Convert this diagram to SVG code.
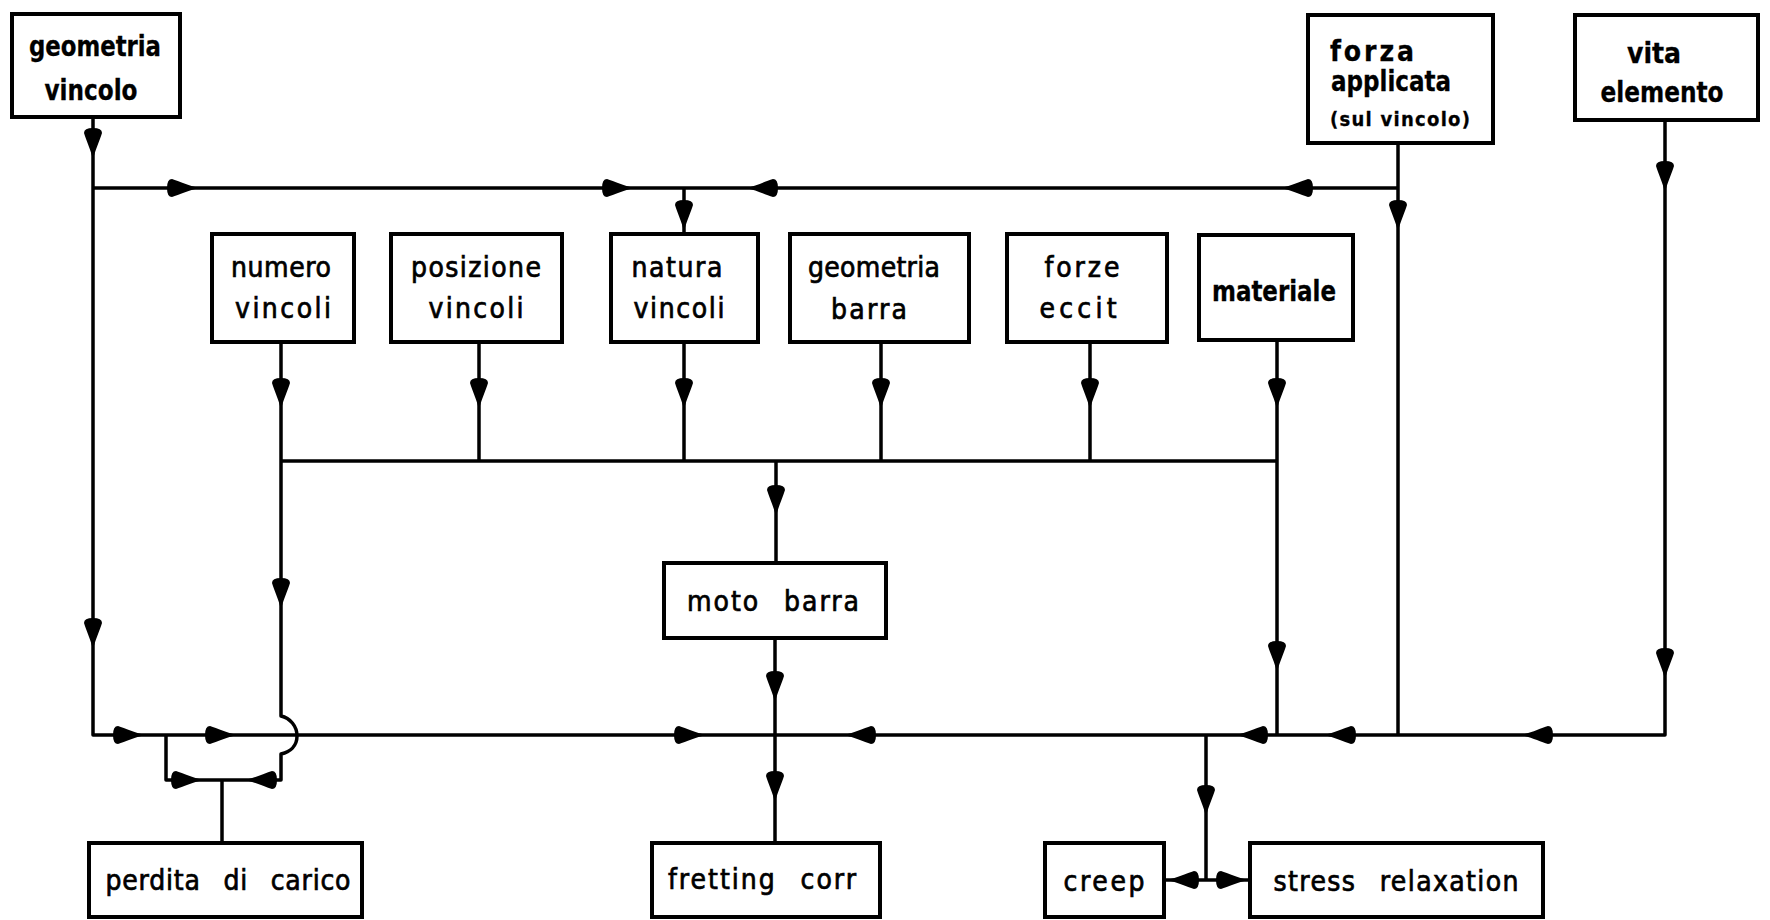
<svg xmlns="http://www.w3.org/2000/svg" width="1770" height="920" viewBox="0 0 1770 920">
<defs>
<style>
.box{fill:#fff;stroke:#000;stroke-width:4}
.ln{fill:none;stroke:#000;stroke-width:3.5;stroke-linejoin:round}
.t{font-family:"DejaVu Sans Condensed","DejaVu Sans",sans-serif;font-stretch:condensed;font-size:28px;fill:#000;stroke:#000;stroke-width:0.7;text-anchor:middle}
.b{font-weight:bold;stroke-width:0.3}
.s{font-size:20px}
.w{word-spacing:14px}
</style>
<path id="ah" d="M0,0 C-10,-2 -20,-7 -27,-9 Q-32,-9 -32,0 Q-32,9 -27,9 C-20,7 -10,2 0,0 Z" fill="#000"/>
</defs>
<rect width="1770" height="920" fill="#fff"/>
<g id="connectors">
<path class="ln" d="M93,117 V735 H1665 V120"/>
<path class="ln" d="M93,188 H1398"/>
<path class="ln" d="M1398,143 V735"/>
<path class="ln" d="M684,188 V234"/>
<path class="ln" d="M281,342 V461 M479,342 V461 M684,342 V461 M881,342 V461 M1090,342 V461 M1277,340 V735"/>
<path class="ln" d="M281,461 H1277"/>
<path class="ln" d="M281,461 V716 C290,718 297,726 297,736 C297,746 290,752 281,754 V780 H166 V735"/>
<path class="ln" d="M222,780 V843"/>
<path class="ln" d="M776,461 V563"/>
<path class="ln" d="M775,638 V843"/>
<path class="ln" d="M1206,735 V880 M1164,880 H1250"/>
<g>
<use href="#ah" transform="translate(93,160) rotate(90)"/>
<use href="#ah" transform="translate(93,650) rotate(90)"/>
<use href="#ah" transform="translate(684,232) rotate(90)"/>
<use href="#ah" transform="translate(1398,232) rotate(90)"/>
<use href="#ah" transform="translate(1665,193) rotate(90)"/>
<use href="#ah" transform="translate(1665,680) rotate(90)"/>
<use href="#ah" transform="translate(281,410) rotate(90)"/>
<use href="#ah" transform="translate(479,410) rotate(90)"/>
<use href="#ah" transform="translate(684,410) rotate(90)"/>
<use href="#ah" transform="translate(881,410) rotate(90)"/>
<use href="#ah" transform="translate(1090,410) rotate(90)"/>
<use href="#ah" transform="translate(1277,410) rotate(90)"/>
<use href="#ah" transform="translate(281,610) rotate(90)"/>
<use href="#ah" transform="translate(1277,673) rotate(90)"/>
<use href="#ah" transform="translate(776,517) rotate(90)"/>
<use href="#ah" transform="translate(775,703) rotate(90)"/>
<use href="#ah" transform="translate(775,803) rotate(90)"/>
<use href="#ah" transform="translate(1206,817) rotate(90)"/>
<use href="#ah" transform="translate(199,188)"/>
<use href="#ah" transform="translate(634,188)"/>
<use href="#ah" transform="translate(145,735)"/>
<use href="#ah" transform="translate(237,735)"/>
<use href="#ah" transform="translate(706,735)"/>
<use href="#ah" transform="translate(203,780)"/>
<use href="#ah" transform="translate(1248,880)"/>
<use href="#ah" transform="translate(746,188) rotate(180)"/>
<use href="#ah" transform="translate(1281,188) rotate(180)"/>
<use href="#ah" transform="translate(844,735) rotate(180)"/>
<use href="#ah" transform="translate(1236,735) rotate(180)"/>
<use href="#ah" transform="translate(1324,735) rotate(180)"/>
<use href="#ah" transform="translate(1521,735) rotate(180)"/>
<use href="#ah" transform="translate(245,780) rotate(180)"/>
<use href="#ah" transform="translate(1167,880) rotate(180)"/>
</g>
</g>
<g id="geometria-vincolo">
<rect class="box" x="12" y="14" width="168" height="103"/>
<text class="t b" x="95" y="56" textLength="132" lengthAdjust="spacingAndGlyphs">geometria</text>
<text class="t b" x="91" y="100" textLength="93" lengthAdjust="spacingAndGlyphs">vincolo</text>
</g>
<g id="forza-applicata">
<rect class="box" x="1308" y="15" width="185" height="128"/>
<text class="t b" x="1372" y="61" textLength="84">forza</text>
<text class="t b" x="1391" y="91" textLength="120" lengthAdjust="spacingAndGlyphs">applicata</text>
<text class="t b s" x="1400" y="126" textLength="140">(sul vincolo)</text>
</g>
<g id="vita-elemento">
<rect class="box" x="1575" y="15" width="183" height="105"/>
<text class="t b" x="1654" y="63" textLength="54">vita</text>
<text class="t b" x="1662" y="102" textLength="123" lengthAdjust="spacingAndGlyphs">elemento</text>
</g>
<g id="numero-vincoli">
<rect class="box" x="212" y="234" width="142" height="108"/>
<text class="t" x="281" y="277" textLength="100">numero</text>
<text class="t" x="283" y="318" textLength="96">vincoli</text>
</g>
<g id="posizione-vincoli">
<rect class="box" x="391" y="234" width="171" height="108"/>
<text class="t" x="476" y="277" textLength="130">posizione</text>
<text class="t" x="476" y="318" textLength="95">vincoli</text>
</g>
<g id="natura-vincoli">
<rect class="box" x="611" y="234" width="147" height="108"/>
<text class="t" x="677" y="277" textLength="91">natura</text>
<text class="t" x="679" y="318" textLength="91">vincoli</text>
</g>
<g id="geometria-barra">
<rect class="box" x="790" y="234" width="179" height="108"/>
<text class="t" x="874" y="277" textLength="132">geometria</text>
<text class="t" x="869" y="319" textLength="76">barra</text>
</g>
<g id="forze-eccit">
<rect class="box" x="1007" y="234" width="160" height="108"/>
<text class="t" x="1082" y="277" textLength="75">forze</text>
<text class="t" x="1078" y="318" textLength="77">eccit</text>
</g>
<g id="materiale">
<rect class="box" x="1199" y="235" width="154" height="105"/>
<text class="t b" x="1274" y="301" textLength="124" lengthAdjust="spacingAndGlyphs">materiale</text>
</g>
<g id="moto-barra">
<rect class="box" x="664" y="563" width="222" height="75"/>
<text class="t w" x="773" y="611" textLength="172">moto barra</text>
</g>
<g id="perdite-di-carico">
<rect class="box" x="89" y="843" width="273" height="74"/>
<text class="t w" x="228" y="890" textLength="245">perdita di carico</text>
</g>
<g id="fretting-corr">
<rect class="box" x="652" y="843" width="228" height="74"/>
<text class="t w" x="762" y="889" textLength="188">fretting corr</text>
</g>
<g id="creep">
<rect class="box" x="1045" y="843" width="119" height="74"/>
<text class="t" x="1104" y="891" textLength="81">creep</text>
</g>
<g id="stress-relaxation">
<rect class="box" x="1250" y="843" width="293" height="74"/>
<text class="t w" x="1396" y="891" textLength="245">stress relaxation</text>
</g>
</svg>
